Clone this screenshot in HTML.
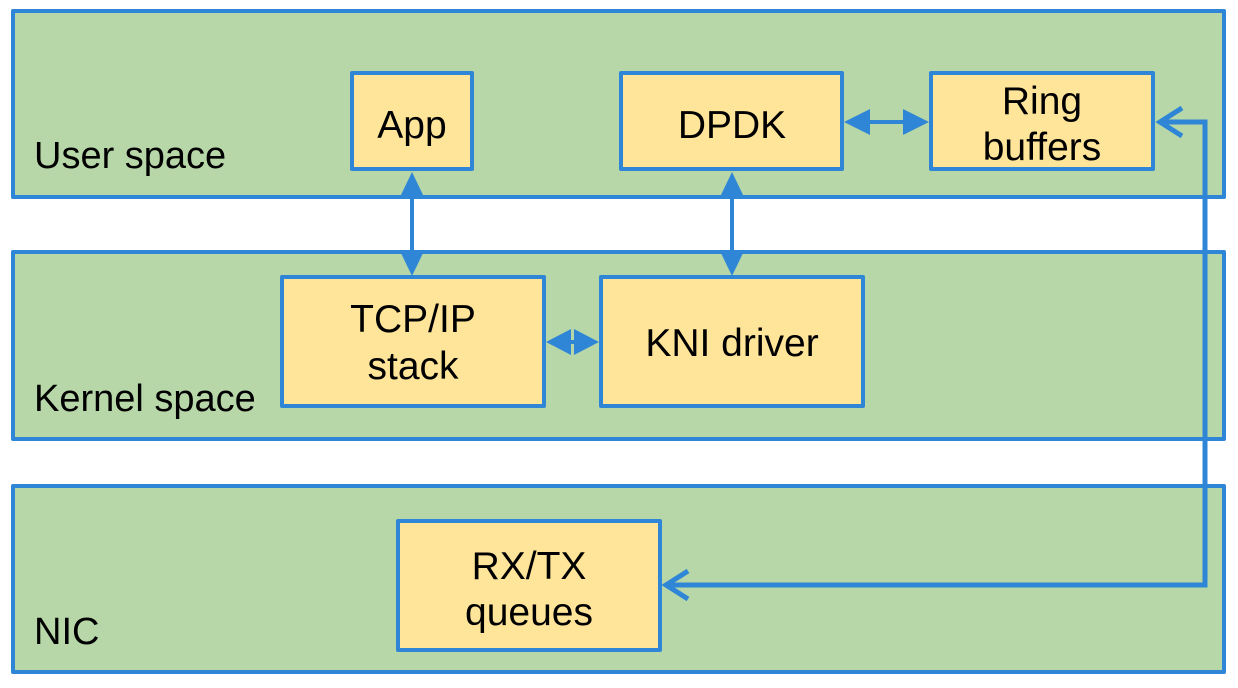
<!DOCTYPE html>
<html><head><meta charset="utf-8"><style>html,body{margin:0;padding:0;background:#fff}svg{display:block}</style></head>
<body>
<svg width="1238" height="688" viewBox="0 0 1238 688" xmlns="http://www.w3.org/2000/svg" font-family="Liberation Sans, sans-serif" font-size="39" fill="#000">
<g stroke="#2f86d6" stroke-width="4" fill="#b7d7a8" stroke-linejoin="round">
<rect x="13" y="11" width="1211" height="186"/>
<rect x="13" y="252" width="1211" height="187"/>
<rect x="13" y="486" width="1211" height="186"/>
</g>
<g stroke="#2f86d6" stroke-width="4" fill="#ffe599" stroke-linejoin="round">
<rect x="352" y="73" width="120" height="96"/>
<rect x="621" y="73" width="221" height="96"/>
<rect x="931" y="73" width="222" height="96"/>
<rect x="282" y="277" width="262" height="129"/>
<rect x="601" y="277" width="262" height="129"/>
<rect x="398" y="521" width="262" height="129"/>
</g>
<g text-anchor="middle">
<text x="412" y="138">App</text>
<text x="732" y="138">DPDK</text>
<text x="1042" y="114">Ring</text>
<text x="1042" y="160">buffers</text>
<text x="413" y="332">TCP/IP</text>
<text x="413" y="379">stack</text>
<text x="732" y="356">KNI driver</text>
<text x="529" y="579">RX/TX</text>
<text x="529" y="625">queues</text>
</g>
<g font-size="38">
<text x="34" y="168">User space</text>
<text x="34" y="411">Kernel space</text>
<text x="34" y="644">NIC</text>
</g>
<g stroke="#2f86d6" stroke-width="4" fill="none">
<line x1="412" y1="190" x2="412" y2="258"/>
<line x1="732" y1="190" x2="732" y2="258"/>
<line x1="862" y1="122" x2="912" y2="122"/>
<line x1="564" y1="342" x2="582" y2="342"/>
<polyline points="1160,122 1205,122 1205,585 666,585" stroke-width="5"/>
<polyline points="1182,108 1160,122 1182,136" stroke-width="5"/>
<polyline points="688,571 666,585 688,599" stroke-width="5"/>
</g>
<g fill="#2f86d6">
<polygon points="412,172 400,197 424,197"/>
<polygon points="412,276 400,251 424,251"/>
<polygon points="732,172 720,197 744,197"/>
<polygon points="732,276 720,251 744,251"/>
<polygon points="844,122 870,109 870,135"/>
<polygon points="929,122 903,109 903,135"/>
<polygon points="546,342 571,329 571,355"/>
<polygon points="599,342 574,329 574,355"/>
</g>
</svg>
</body></html>
